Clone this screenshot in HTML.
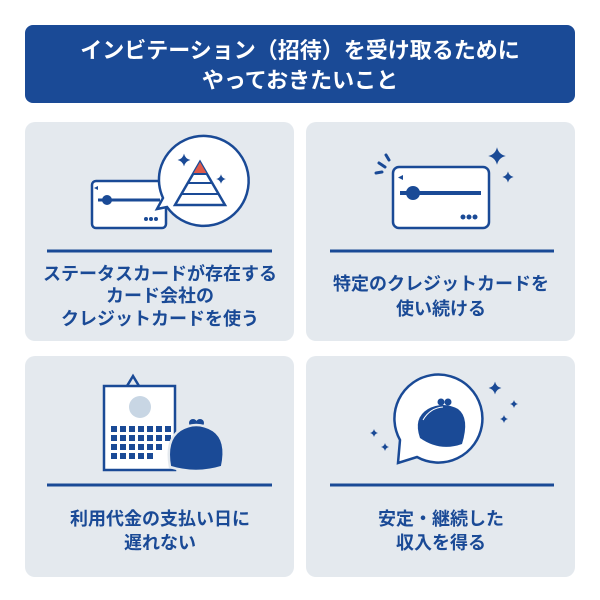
<!DOCTYPE html>
<html><head><meta charset="utf-8"><style>
body{margin:0;background:#fff;}
svg{display:block;}
text{font-family:"Liberation Sans","Noto Sans CJK JP",sans-serif;font-weight:bold;}
</style></head><body>
<svg width="600" height="600" viewBox="0 0 600 600" xmlns="http://www.w3.org/2000/svg">
<defs>
<path id="sp" d="M0,-8 Q1.5,-1.5 8,0 Q1.5,1.5 0,8 Q-1.5,1.5 -8,0 Q-1.5,-1.5 0,-8Z" fill="#1a4a96"/>
</defs>
<rect x="25" y="25" width="550" height="78" rx="8" fill="#1a4a96"/>
<text x="300" y="58" font-size="22" fill="#fff" text-anchor="middle">インビテーション（招待）を受け取るために</text>
<text x="300" y="88" font-size="22" fill="#fff" text-anchor="middle">やっておきたいこと</text>

<rect x="25" y="122" width="269" height="219" rx="10" fill="#e4e9ee"/>
<rect x="306" y="122" width="269" height="219" rx="10" fill="#e4e9ee"/>
<rect x="25" y="356" width="269" height="221" rx="10" fill="#e4e9ee"/>
<rect x="306" y="356" width="269" height="221" rx="10" fill="#e4e9ee"/>

<g stroke="#1a4a96" stroke-width="3">
<line x1="47" y1="251" x2="272" y2="251"/>
<line x1="330" y1="251" x2="554" y2="251"/>
<line x1="47" y1="485" x2="272" y2="485"/>
<line x1="330" y1="485" x2="554" y2="485"/>
</g>

<g fill="#1a4a96" font-size="18" text-anchor="middle">
<text x="160" y="280">ステータスカードが存在する</text>
<text x="160" y="302">カード会社の</text>
<text x="160" y="325">クレジットカードを使う</text>
<text x="441" y="290">特定のクレジットカードを</text>
<text x="441" y="315">使い続ける</text>
<text x="160" y="525">利用代金の支払い日に</text>
<text x="160" y="549">遅れない</text>
<text x="441" y="525">安定・継続した</text>
<text x="441" y="549">収入を得る</text>
</g>

<!-- panel1 -->
<rect x="92" y="181" width="74" height="47" rx="4" fill="#fff" stroke="#1a4a96" stroke-width="2.5"/>
<line x1="98" y1="200" x2="160" y2="200" stroke="#1a4a96" stroke-width="3"/>
<circle cx="107" cy="200" r="5" fill="#1a4a96"/>
<g fill="#1a4a96"><circle cx="146" cy="219" r="2"/><circle cx="151" cy="219" r="2"/><circle cx="156" cy="219" r="2"/></g>
<path d="M98,186 l-4,2 l4,2z" fill="#1a4a96"/>
<path d="M160,170 A45,45 0 1 1 167,207 L157,209 L163,198 A45,45 0 0 1 160,170Z" fill="#fff" stroke="#1a4a96" stroke-width="2.5"/>
<path d="M200,162 L225,205 L175,205Z" fill="#fff" stroke="#1a4a96" stroke-width="2.5"/>
<path d="M200,162 L207,174 L193,174Z" fill="#e05a4a"/>
<g stroke="#1a4a96" stroke-width="2"><line x1="193" y1="174" x2="207" y2="174"/><line x1="188" y1="183" x2="212" y2="183"/><line x1="182" y1="194" x2="218" y2="194"/></g>
<use href="#sp" transform="translate(184,160) scale(0.8)"/>
<use href="#sp" transform="translate(221,179) scale(0.6)"/>

<!-- panel2 -->
<rect x="393" y="167" width="96" height="61" rx="6" fill="#fff" stroke="#1a4a96" stroke-width="2.5"/>
<line x1="400" y1="193" x2="481" y2="193" stroke="#1a4a96" stroke-width="4"/>
<circle cx="413" cy="193" r="7" fill="#1a4a96"/>
<g fill="#1a4a96"><circle cx="463" cy="217" r="2.5"/><circle cx="469" cy="217" r="2.5"/><circle cx="475" cy="217" r="2.5"/></g>
<path d="M403,175 l-5,2.5 l5,2.5z" fill="#1a4a96"/>
<g stroke="#1a4a96" stroke-width="3" stroke-linecap="round"><line x1="376" y1="173" x2="382" y2="172"/><line x1="379" y1="163" x2="385" y2="167"/><line x1="386" y1="155" x2="389" y2="160"/></g>
<use href="#sp" transform="translate(497,156) scale(1.1)"/>
<use href="#sp" transform="translate(508,177) scale(0.7)"/>

<!-- panel3 -->
<path d="M127,386 L133,376 L139,386" fill="none" stroke="#1a4a96" stroke-width="2.5"/>
<rect x="104" y="386" width="71" height="84" fill="#fff" stroke="#1a4a96" stroke-width="2.5"/>
<circle cx="140" cy="407" r="11" fill="#c8d6e4"/>
<g fill="#1a4a96">
<rect x="111" y="426" width="6" height="6"/><rect x="120" y="426" width="6" height="6"/><rect x="129" y="426" width="6" height="6"/><rect x="138" y="426" width="6" height="6"/><rect x="147" y="426" width="6" height="6"/><rect x="156" y="426" width="6" height="6"/><rect x="165" y="426" width="6" height="6"/>
<rect x="111" y="435" width="6" height="6"/><rect x="120" y="435" width="6" height="6"/><rect x="129" y="435" width="6" height="6"/><rect x="138" y="435" width="6" height="6"/><rect x="147" y="435" width="6" height="6"/><rect x="156" y="435" width="6" height="6"/><rect x="165" y="435" width="6" height="6"/>
<rect x="111" y="444" width="6" height="6"/><rect x="120" y="444" width="6" height="6"/><rect x="129" y="444" width="6" height="6"/><rect x="138" y="444" width="6" height="6"/><rect x="147" y="444" width="6" height="6"/><rect x="156" y="444" width="6" height="6"/>
<rect x="111" y="453" width="6" height="6"/><rect x="120" y="453" width="6" height="6"/><rect x="129" y="453" width="6" height="6"/><rect x="138" y="453" width="6" height="6"/><rect x="147" y="453" width="6" height="6"/>
</g>
<circle cx="193" cy="423" r="4" fill="#1a4a96"/><circle cx="200" cy="423" r="4" fill="#1a4a96"/>
<path d="M170,467 Q165,440 180,430 Q196,420 213,430 Q228,440 222,467 Q196,475 170,467Z" fill="#1a4a96" stroke="#e4e9ee" stroke-width="2.5"/>

<!-- panel4 -->
<path d="M400,440 A44,44 0 1 1 417,457 L398,463 Z" fill="#fff" stroke="#1a4a96" stroke-width="2.5"/>
<circle cx="441" cy="402" r="3.5" fill="#1a4a96"/><circle cx="448" cy="402" r="3.5" fill="#1a4a96"/>
<path d="M420,438 Q413,418 428,409 Q443,401 458,409 Q470,418 462,444 Q440,452 420,438Z" fill="#1a4a96"/>
<path d="M423,420 Q430,408 443,407" fill="none" stroke="#fff" stroke-width="1"/>
<use href="#sp" transform="translate(495,388) scale(0.8)"/>
<use href="#sp" transform="translate(514,404) scale(0.5)"/>
<use href="#sp" transform="translate(504,419) scale(0.5)"/>
<use href="#sp" transform="translate(374,433) scale(0.5)"/>
<use href="#sp" transform="translate(385,447) scale(0.5)"/>
</svg>
</body></html>
